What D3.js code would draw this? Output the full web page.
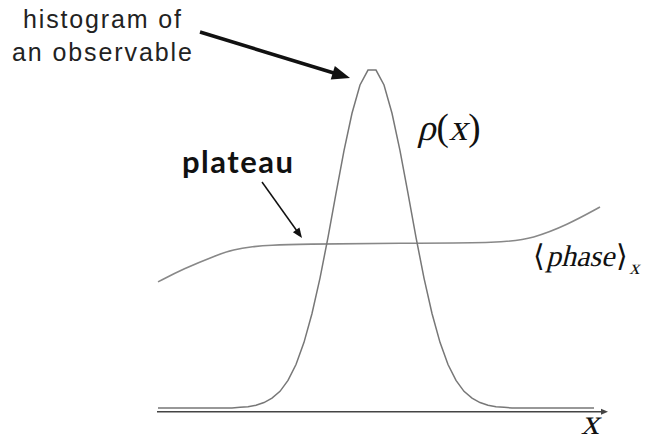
<!DOCTYPE html>
<html lang="en">
<head>
	<meta charset="UTF-8">
	<title>plateau</title>
	<style>
		body { margin: 0; background: #fff; }
		svg { display: block; }
		.sans { font-family: "Liberation Sans", Arial, Helvetica, sans-serif; }
		.bold { font-family: Lato, "Open Sans", sans-serif; font-weight: 700; }
		.math { font-family: "Liberation Serif", "Times New Roman", serif; font-style: normal; }
	</style>
</head>
<body>
	<svg id="cont" width="650" height="443"></svg>
</body>
<script src="https://cdn.jsdelivr.net/npm/d3@7"></script>
<script>
	// histogram rho(x)
	const rhoX = [0.1, 7.5, 8.3, 9.1, 9.9, 10.7, 11.5, 12.3, 13.1, 13.9, 14.7, 15.5, 16.3, 17.1, 17.9, 18.7, 19.5, 20.3, 21.1,
		21.9, 22.7, 23.5, 24.3, 25.1, 25.9, 26.7, 27.5, 28.3, 29.1, 29.9, 30.7, 31.5, 32.3, 33.1, 33.9, 34.7, 35.5, 43.7]
	const rhoY = [0, 0, 0.002, 0.004, 0.008, 0.016, 0.029, 0.049, 0.081, 0.128, 0.193, 0.278, 0.382, 0.502, 0.631, 0.757, 0.867, 0.950, 0.994,
		0.994, 0.950, 0.867, 0.757, 0.631, 0.502, 0.382, 0.278, 0.193, 0.128, 0.081, 0.049, 0.029, 0.016, 0.008, 0.004, 0.002, 0, 0]

	// <phase>_x curve
	const phaseX = [0.1, 2.6, 6.0, 7.6, 9.6, 11.3, 14.3, 24.3, 34.6, 37.6, 41.0, 44.3]
	const phaseY = [0.371, 0.409, 0.450, 0.466, 0.475, 0.479, 0.482, 0.485, 0.485, 0.499, 0.538, 0.591]

	const xMax = 45.1
	const labels = ["histogram of", "an observable", "plateau"]

	let svg = d3.select("#cont")
	let x = d3.scaleLinear().domain([0, 45]).range([157, 607])
	let y = d3.scaleLinear().domain([0, 1]).range([408, 68])

	function arrow(x1, y1, x2, y2, w, len, half, color)
	{
		let l = Math.hypot(x2 - x1, y2 - y1)
		svg.append("line")
			.attr("x1", x1).attr("y1", y1)
			.attr("x2", x2 - (x2 - x1) / l * len * 0.8)
			.attr("y2", y2 - (y2 - y1) / l * len * 0.8)
			.attr("stroke", color).attr("stroke-width", w)
		let a = Math.atan2(y2 - y1, x2 - x1)
		let bx = x2 - len * Math.cos(a), by = y2 - len * Math.sin(a)
		let pts = [[x2, y2],
			[bx + half * Math.sin(a), by - half * Math.cos(a)],
			[bx - half * Math.sin(a), by + half * Math.cos(a)]]
		svg.append("polygon").attr("points", pts.map(p => p.join(",")).join(" ")).attr("fill", color)
	}

	// math text: pieces laid out one after another, italic ones slanted by hand
	function mathText(parts, x0, y0, size)
	{
		let cx = x0
		for (let p of parts)
		{
			let fs = p.sub ? size * 0.68 : size
			let by = p.sub ? y0 + size * 0.25 : y0
			let t = svg.append("text").attr("class", "math")
				.attr("font-size", fs).attr("fill", "#111")
				.attr("transform", `translate(${cx},${by})` + (p.it ? " skewX(-14)" : ""))
				.text(p.t)
			cx += t.node().getComputedTextLength() + (p.gap || 0)
		}
	}

	// x axis
	arrow(x(0), y(-0.011), x(xMax), y(-0.011), 1.5, 7, 3, "#444")

	let rho = rhoX.map((d, i) => ({x: d, y: rhoY[i]}))
	let phase = phaseX.map((d, i) => ({x: d, y: phaseY[i]}))

	svg.append("path")
		.datum(phase)
		.attr("fill", "none")
		.attr("stroke", "#888")
		.attr("stroke-width", 1.6)
		.attr("d", d3.line().x(d => x(d.x)).y(d => y(d.y)).curve(d3.curveBasis))

	svg.append("path")
		.datum(rho)
		.attr("fill", "none")
		.attr("stroke", "#777")
		.attr("stroke-width", 1.5)
		.attr("d", d3.line().x(d => x(d.x)).y(d => y(d.y)))

	// annotations
	arrow(200, 32, 350, 78, 3.5, 18, 7, "#111")
	arrow(262, 182, 302, 238, 1.5, 10, 4, "#111")

	svg.append("text").attr("class", "sans").attr("x", 23).attr("y", 28).attr("textLength", 158)
		.attr("font-size", 25).attr("fill", "#222")
		.text(labels[0])
	svg.append("text").attr("class", "sans").attr("x", 12).attr("y", 61).attr("textLength", 180)
		.attr("font-size", 25).attr("fill", "#222")
		.text(labels[1])
	svg.append("text").attr("class", "bold").attr("x", 182).attr("y", 173).attr("textLength", 111)
		.attr("font-size", 31).attr("fill", "#111")
		.text(labels[2])

	mathText([{t: "ρ", it: true, gap: 1}, {t: "("}, {t: "x", it: true, gap: 1}, {t: ")"}], 417, 140, 37)
	mathText([{t: "⟨", gap: 1}, {t: "phase", it: true, gap: 2}, {t: "⟩", gap: 1}, {t: "x", it: true, sub: true}], 533, 266, 30)
	mathText([{t: "x", it: true}], 581, 434, 36)
</script>
</html>
